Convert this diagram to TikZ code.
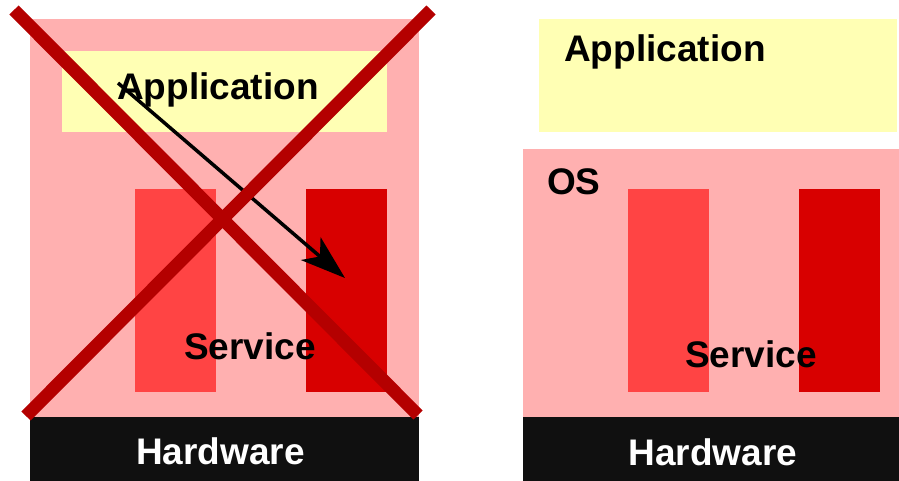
\documentclass[tikz,border=0pt]{standalone}
\usepackage{fontspec}
\setmainfont{Liberation Sans}
\usetikzlibrary{arrows.meta}

\definecolor{ospink}{RGB}{255,176,176}
\definecolor{appyellow}{RGB}{255,255,180}
\definecolor{svclight}{RGB}{255,68,68}
\definecolor{svcdark}{RGB}{216,0,0}
\definecolor{hwblack}{RGB}{16,16,16}
\definecolor{crossred}{RGB}{180,0,0}

\begin{document}
\begin{tikzpicture}[x=1pt, y=-1pt,
    lbl/.style={inner sep=0pt, font=\bfseries\fontsize{37}{40}\selectfont},
    hwlbl/.style={lbl, text=white},
    cross/.style={crossred, line width=13pt}]
            \useasboundingbox (0, 0) rectangle (899, 481);

            % left: application reaching into the service directly
            \fill[ospink](30, 19) rectangle (419, 417);
            \fill[appyellow](62, 51) rectangle (387, 132);
            \fill[svclight](135, 189) rectangle (216, 392);
            \fill[svcdark](306, 189) rectangle (387, 392);
            \fill[hwblack](30, 417) rectangle (419, 481);

            \node[lbl, anchor = base] (app_l) at (218, 100) {Application};
            \node[lbl, anchor = base] (svc_l) at (250, 359) {Service};
            \node[hwlbl, anchor = base] (hw_l) at (220.5, 464) {Hardware};

            \coordinate (call_from) at (118, 83);
            \coordinate (call_to) at (345, 278);
            \draw[black, line width = 3.5pt, -{Stealth[length = 45pt, width = 30pt, inset = 12pt]}](call_from) -- (call_to);

            \coordinate (x_tl) at (14, 10);
            \coordinate (x_br) at (418, 415);
            \coordinate (x_tr) at (431, 10);
            \coordinate (x_bl) at (26, 416);
            \draw[cross](x_tl) -- (x_br);
            \draw[cross](x_tr) -- (x_bl);

            % right: application on top of the OS
            \fill[appyellow](539, 19) rectangle (897, 132);
            \fill[ospink](523, 149) rectangle (899, 417);
            \fill[svclight](628, 189) rectangle (709, 392);
            \fill[svcdark](799, 189) rectangle (880, 392);
            \fill[hwblack](523, 417) rectangle (899, 481);

            \node[lbl, anchor = base west] (app_r) at (564, 62) {Application};
            \node[lbl, anchor = base west] (os_r) at (547, 195) {OS};
            \node[lbl, anchor = base] (svc_r) at (751, 367) {Service};
            \node[hwlbl, anchor = base] (hw_r) at (713, 465) {Hardware};
        \end{tikzpicture}
\end{document}
